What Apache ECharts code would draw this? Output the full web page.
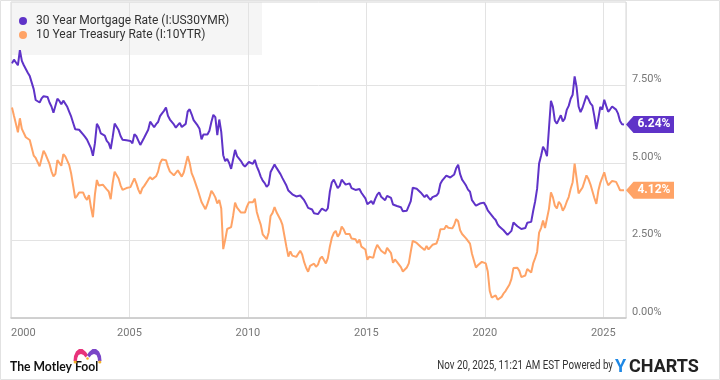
<!DOCTYPE html>
<html>
<head>
<meta charset="utf-8">
<script src="https://cdn.jsdelivr.net/npm/echarts@6/dist/echarts.min.js"></script>
<style>
html,body{margin:0;padding:0;background:#fff;}
#chart{width:720px;height:380px;}
</style>
</head>
<body>
<div id="chart"></div>
<script>
// Monthly values, Jan 2000 .. Nov 2025
const startYear = 2000;
const mortgageRate = [
8.21,8.33,8.24,8.15,8.64,8.29,8.15,8.03,7.91,7.80,7.75,7.38,
7.03,7.05,6.95,7.08,7.15,7.16,7.13,6.95,6.82,6.62,6.66,7.07,
7.00,6.89,7.01,6.99,6.81,6.65,6.49,6.29,6.09,6.11,6.07,6.05,
5.92,5.84,5.75,5.81,5.48,5.23,5.63,6.26,6.15,5.95,5.93,5.88,
5.71,5.64,5.45,5.83,6.27,6.29,6.06,5.87,5.75,5.72,5.73,5.75,
5.71,5.63,5.93,5.86,5.72,5.58,5.70,5.82,5.77,6.07,6.33,6.27,
6.15,6.25,6.32,6.51,6.60,6.68,6.79,6.52,6.40,6.36,6.24,6.14,
6.22,6.29,6.16,6.18,6.26,6.66,6.73,6.57,6.38,6.38,6.21,6.10,
5.76,5.92,5.97,5.92,6.04,6.32,6.55,6.48,5.90,6.40,6.00,5.25,
5.06,5.13,5.00,4.81,4.86,5.42,5.22,5.19,5.06,4.95,4.88,4.93,
5.03,4.99,4.97,5.10,4.89,4.74,4.56,4.43,4.35,4.23,4.30,4.71,
4.76,4.95,4.84,4.84,4.64,4.51,4.55,4.27,4.11,4.07,3.99,3.96,
3.92,3.89,3.95,3.91,3.80,3.68,3.55,3.60,3.50,3.38,3.35,3.35,
3.41,3.53,3.57,3.45,3.54,4.07,4.37,4.46,4.49,4.19,4.26,4.46,
4.43,4.30,4.34,4.34,4.19,4.16,4.13,4.12,4.16,4.04,4.00,3.86,
3.67,3.71,3.77,3.67,3.84,3.98,4.05,3.91,3.89,3.80,3.94,3.96,
3.87,3.66,3.69,3.61,3.60,3.57,3.44,3.44,3.46,3.47,3.77,4.20,
4.15,4.17,4.20,4.05,4.01,3.90,3.97,3.88,3.81,3.90,3.92,3.95,
4.03,4.33,4.44,4.47,4.59,4.57,4.53,4.55,4.63,4.83,4.94,4.64,
4.46,4.37,4.27,4.14,4.07,3.80,3.77,3.62,3.61,3.69,3.70,3.72,
3.62,3.47,3.45,3.31,3.23,3.16,3.02,2.94,2.89,2.83,2.77,2.68,
2.67,2.81,3.08,3.06,2.96,2.98,2.87,2.84,2.90,3.07,3.07,3.10,
3.45,3.76,4.17,4.98,5.23,5.52,5.41,5.22,6.11,7.00,6.81,6.36,
6.27,6.26,6.54,6.34,6.43,6.71,6.84,7.07,7.20,7.79,7.44,6.82,
6.64,6.78,6.82,7.17,7.06,6.92,6.85,6.50,6.09,6.43,6.81,6.72,
7.04,6.84,6.65,6.73,6.82,6.82,6.72,6.59,6.35,6.25,6.24
];
const treasuryRate = [
6.79,6.52,6.26,5.99,6.44,6.10,6.05,5.83,5.80,5.74,5.72,5.24,
5.16,5.10,4.89,5.14,5.39,5.28,5.24,4.97,4.73,4.57,4.65,5.09,
5.04,4.91,5.28,5.21,5.16,4.93,4.65,4.26,3.87,3.94,4.05,4.03,
4.05,3.90,3.81,3.96,3.57,3.25,3.98,4.45,4.27,4.29,4.30,4.27,
4.15,4.08,3.83,4.35,4.72,4.73,4.50,4.28,4.13,4.10,4.19,4.23,
4.22,4.17,4.50,4.34,4.14,4.00,4.18,4.26,4.20,4.46,4.54,4.47,
4.42,4.57,4.72,4.99,5.11,5.15,5.09,4.88,4.72,4.73,4.60,4.56,
4.76,4.72,4.56,4.69,4.75,5.22,5.00,4.67,4.52,4.53,4.15,4.10,
3.74,3.74,3.51,3.68,3.88,4.10,4.01,3.89,3.69,3.81,3.53,2.22,
2.52,2.87,2.82,2.93,3.29,3.72,3.56,3.59,3.40,3.39,3.40,3.59,
3.73,3.69,3.73,3.85,3.42,3.20,3.01,2.70,2.65,2.54,2.76,3.29,
3.39,3.58,3.41,3.46,3.17,3.00,3.00,2.30,1.98,2.15,2.01,1.98,
1.97,1.97,2.17,2.05,1.80,1.62,1.49,1.68,1.72,1.75,1.65,1.72,
1.91,1.98,1.96,1.76,1.93,2.30,2.58,2.74,2.81,2.62,2.72,2.95,
2.86,2.71,2.72,2.71,2.56,2.60,2.54,2.42,2.53,2.30,2.33,2.21,
1.88,1.98,2.04,1.94,2.20,2.36,2.32,2.17,2.17,2.07,2.26,2.24,
2.09,1.78,1.89,1.81,1.81,1.64,1.50,1.56,1.63,1.76,2.14,2.49,
2.43,2.42,2.48,2.30,2.30,2.19,2.32,2.21,2.20,2.36,2.35,2.40,
2.58,2.86,2.84,2.87,2.98,2.91,2.89,2.89,3.00,3.19,3.12,2.83,
2.71,2.68,2.57,2.53,2.40,2.07,2.06,1.63,1.70,1.71,1.81,1.86,
1.76,1.50,0.87,0.66,0.67,0.73,0.59,0.55,0.68,0.79,0.87,0.93,
1.08,1.26,1.61,1.64,1.62,1.52,1.32,1.28,1.37,1.58,1.56,1.47,
1.76,1.93,2.13,2.75,2.90,3.14,2.90,2.90,3.52,4.05,3.89,3.62,
3.53,3.75,3.66,3.46,3.57,3.75,3.90,4.17,4.38,4.98,4.50,4.02,
4.06,4.21,4.21,4.60,4.48,4.31,4.25,3.87,3.68,4.10,4.36,4.39,
4.70,4.45,4.28,4.28,4.42,4.38,4.39,4.26,4.12,4.06,4.12
];
const seriesNames = ['30 Year Mortgage Rate (I:US30YMR)', '10 Year Treasury Rate (I:10YTR)'];
const seriesColors = ['#5f33c8', '#ffa366'];
const xTickYears = [2000, 2005, 2010, 2015, 2020, 2025];
const yTickValues = [0, 2.5, 5, 7.5];
const stampText = 'Nov 20, 2025, 11:21 AM EST Powered by';

function toPairs(arr) {
  return arr.map((v, i) => [startYear + (i + 0.5) / 12, v]);
}
const mortgagePts = toPairs(mortgageRate);
const treasuryPts = toPairs(treasuryRate);

function tagPoint(pts, color) {
  const last = pts[pts.length - 1];
  return {
    silent: true,
    symbol: 'path://M0,8.5L7.5,0L48,0L48,17L7.5,17Z',
    symbolSize: [48, 17],
    symbolKeepAspect: false,
    symbolOffset: [26, 0],
    itemStyle: { color: color },
    label: {
      show: true, position: 'inside', offset: [4, 0],
      color: '#fff', fontWeight: 'bold', fontSize: 12, fontFamily: 'Roboto',
      formatter: () => last[1].toFixed(2) + '%'
    },
    data: [{ coord: last, value: last[1] }]
  };
}

const pinkHat = [[73.5,361],[74,356],[76,351.5],[79,349],[82.5,349],[86,352],[88,355],[85.5,357.5],[83.5,355],[81,354],[78.5,355],[77.3,358],[77,361]];
const purpleHat = pinkHat.map(p => [175 - p[0], p[1]]);

const chart = echarts.init(document.getElementById('chart'), null, { renderer: 'canvas' });
const gridCol = '#e3e3e3';
chart.setOption({
  animation: false,
  backgroundColor: '#fff',
  textStyle: { fontFamily: 'Roboto' },
  grid: { left: 11, right: 94, top: 2, bottom: 62, show: true, borderColor: '#d6d6d6', borderWidth: 1 },
  legend: {
    left: 19, top: 14, orient: 'vertical', itemGap: 0,
    icon: 'circle', itemWidth: 8, itemHeight: 8, padding: 0,
    textStyle: { fontSize: 12, color: '#333', fontFamily: 'Roboto', lineHeight: 14, padding: [0, 0, 0, 4] },
    data: seriesNames
  },
  xAxis: {
    type: 'value', min: xTickYears[0], max: 2025.96, interval: 5,
    axisLine: { show: true, lineStyle: { color: '#c9c9c9', width: 1.5 } },
    axisTick: { show: false },
    splitLine: { show: true, lineStyle: { color: gridCol, width: 1 } },
    axisLabel: {
      color: '#777', fontSize: 11, margin: 10, alignMinLabel: 'left', showMaxLabel: false,
      formatter: v => xTickYears.indexOf(Math.round(v)) >= 0 && Math.abs(v - Math.round(v)) < 1e-6 ? String(Math.round(v)) : ''
    }
  },
  yAxis: {
    type: 'value', position: 'right', min: 0, max: 10.19, interval: 2.5,
    axisLine: { show: false }, axisTick: { show: false },
    splitLine: { show: true, lineStyle: { color: [gridCol, gridCol, gridCol, gridCol, 'rgba(0,0,0,0)', 'rgba(0,0,0,0)'] } },
    axisLabel: {
      color: '#777', fontSize: 11, margin: 6, verticalAlign: 'bottom', lineHeight: 12, showMaxLabel: false,
      formatter: v => yTickValues.some(t => Math.abs(t - v) < 1e-6) ? v.toFixed(2) + '%' : ''
    }
  },
  series: [
    {
      name: seriesNames[0], type: 'line', data: mortgagePts, showSymbol: false, z: 3,
      lineStyle: { width: 2, color: seriesColors[0] }, itemStyle: { color: seriesColors[0] },
      markPoint: tagPoint(mortgagePts, seriesColors[0])
    },
    {
      name: seriesNames[1], type: 'line', data: treasuryPts, showSymbol: false, z: 2,
      lineStyle: { width: 2, color: seriesColors[1] }, itemStyle: { color: seriesColors[1] },
      markPoint: tagPoint(treasuryPts, seriesColors[1])
    }
  ],
  graphic: [
    { type: 'rect', z: -1, shape: { x: 11, y: 2, width: 251, height: 53 }, style: { fill: '#f5f5f5' } },
    { type: 'rect', z: 100, shape: { x: 0.5, y: 0.5, width: 719, height: 379 }, style: { fill: 'none', stroke: '#e2e2e2', lineWidth: 1 } },
    { type: 'text', x: 10, y: 359, scaleX: 0.87, style: { text: 'The Motley Fool', font: 'bold 14px Lato, Roboto, sans-serif', fill: '#111' } },
    { type: 'polygon', shape: { points: pinkHat }, style: { fill: '#e8327a' } },
    { type: 'polygon', shape: { points: purpleHat }, style: { fill: '#7a45c8' } },
    { type: 'circle', shape: { cx: 75.2, cy: 362, r: 1.6 }, style: { fill: '#f5b32a' } },
    { type: 'circle', shape: { cx: 99.8, cy: 362, r: 1.6 }, style: { fill: '#f5b32a' } },
    { type: 'circle', shape: { cx: 87.5, cy: 358.5, r: 1.3 }, style: { fill: '#f5b32a' } },
    { type: 'text', x: 613, y: 360, scaleX: 0.815, style: { text: stampText, align: 'right', font: '12px Roboto, sans-serif', fill: '#333' } },
    { type: 'text', x: 615, y: 358, style: { text: 'Y', font: 'bold 18px Roboto, sans-serif', fill: '#1e88e5' } },
    { type: 'text', x: 629, y: 358, style: { text: 'CHARTS', font: 'bold 18px Roboto, sans-serif', fill: '#222' } }
  ]
});
</script>
</body>
</html>
